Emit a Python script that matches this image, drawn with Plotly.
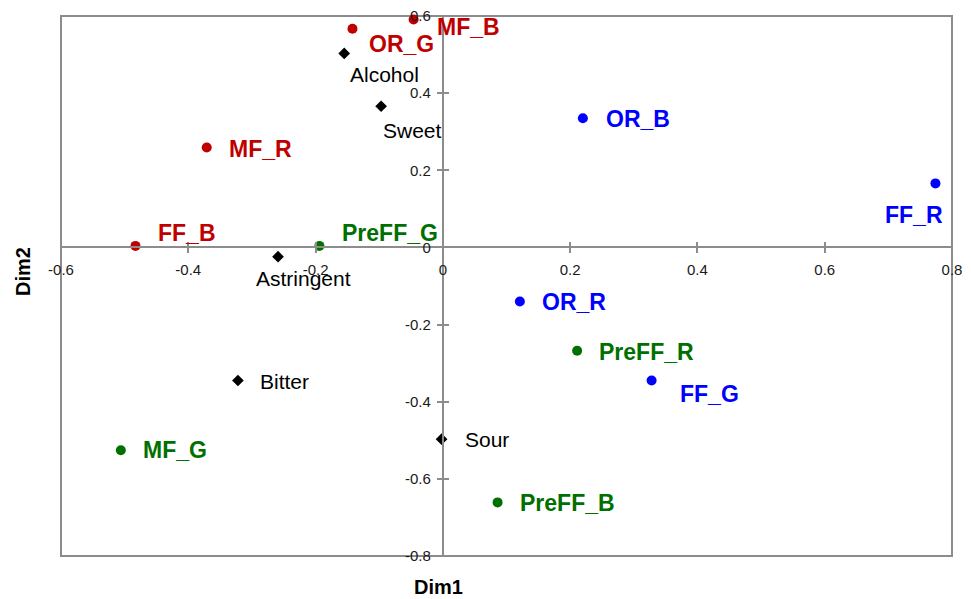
import plotly.graph_objects as go

# Sample coordinates on the first two dimensions
red_names = ["MF_B", "OR_G", "MF_R", "FF_B"]
red_dim1 = [-0.046, -0.142, -0.371, -0.483]
red_dim2 = [0.591, 0.567, 0.259, 0.004]

green_names = ["PreFF_G", "MF_G", "PreFF_R", "PreFF_B"]
green_dim1 = [-0.194, -0.506, 0.211, 0.086]
green_dim2 = [0.004, -0.526, -0.268, -0.661]

blue_names = ["OR_B", "FF_R", "OR_R", "FF_G"]
blue_dim1 = [0.220, 0.774, 0.121, 0.328]
blue_dim2 = [0.335, 0.166, -0.140, -0.345]

# Sensory attributes
attr_names = ["Alcohol", "Sweet", "Astringent", "Bitter", "Sour"]
attr_dim1 = [-0.155, -0.097, -0.259, -0.322, -0.002]
attr_dim2 = [0.503, 0.366, -0.024, -0.345, -0.497]

x_ticks = [-0.6, -0.4, -0.2, 0, 0.2, 0.4, 0.6, 0.8]
x_tick_text = ["-0.6", "-0.4", "-0.2", "0", "0.2", "0.4", "0.6", "0.8"]
y_ticks = [-0.8, -0.6, -0.4, -0.2, 0, 0.2, 0.4, 0.6]
y_tick_text = ["-0.8", "-0.6", "-0.4", "-0.2", "0", "0.2", "0.4", "0.6"]

# Label placement: (x offset px, y offset px downward, anchor)
label_offsets = {
    "MF_B": (21, 8, "left"), "OR_G": (15, 15, "left"), "MF_R": (20, 1, "left"),
    "FF_B": (21, -13, "left"), "PreFF_G": (21, -13, "left"), "MF_G": (20, 0, "left"),
    "PreFF_R": (20, 1, "left"), "PreFF_B": (20, 1, "left"), "OR_B": (21, 1, "left"),
    "FF_R": (10, 32, "right"), "OR_R": (20, 1, "left"), "FF_G": (26, 13, "left"),
    "Alcohol": (4, 21, "left"), "Sweet": (0, 24, "left"), "Astringent": (-24, 22, "left"),
    "Bitter": (20, 1, "left"), "Sour": (21, 0, "left"),
}

RED, GREEN, BLUE, BLACK = "#C00000", "#007000", "#0000FF", "#000000"
AXIS_GREY = "#8C8C8C"
FONT = "Liberation Sans, Arial, sans-serif"

X_RANGE = [-0.6, 0.8]
Y_RANGE = [-0.8, 0.6]

fig = go.Figure()

groups = [
    (red_names, red_dim1, red_dim2, RED, "circle", 10, True),
    (green_names, green_dim1, green_dim2, GREEN, "circle", 10, True),
    (blue_names, blue_dim1, blue_dim2, BLUE, "circle", 10, True),
    (attr_names, attr_dim1, attr_dim2, BLACK, "diamond", 9, False),
]

annotations = []
for names, xs, ys, color, symbol, size, bold in groups:
    fig.add_trace(go.Scatter(
        x=xs, y=ys, mode="markers", cliponaxis=False,
        marker=dict(color=color, symbol=symbol, size=size, line=dict(width=0)),
        showlegend=False, hoverinfo="skip",
    ))
    for n, xv, yv in zip(names, xs, ys):
        dx, dy, anchor = label_offsets[n]
        annotations.append(dict(
            x=xv, y=yv, xref="x", yref="y",
            text=f"<b>{n}</b>" if bold else n,
            showarrow=False, xanchor=anchor, yanchor="middle",
            xshift=dx, yshift=-dy,
            font=dict(family=FONT, size=23 if bold else 21, color=color),
        ))

W, H = 971, 599
ML, MR, MT, MB = 61, 19, 16, 43
pw, ph = W - ML - MR, H - MT - MB

# Axis titles, placed by pixel position converted to paper coordinates
annotations.append(dict(
    x=(438 - ML) / pw, y=1 - (587 - MT) / ph, xref="paper", yref="paper",
    xanchor="center", yanchor="middle",
    text="<b>Dim1</b>", showarrow=False,
    font=dict(family=FONT, size=20, color="#000000"),
))
annotations.append(dict(
    x=(23 - ML) / pw, y=1 - (272 - MT) / ph, xref="paper", yref="paper",
    xanchor="center", yanchor="middle",
    text="<b>Dim2</b>", showarrow=False, textangle=-90,
    font=dict(family=FONT, size=20, color="#000000"),
))

# axis lines crossing at the origin
x_cross = (0 - Y_RANGE[0]) / (Y_RANGE[1] - Y_RANGE[0])
y_cross = (0 - X_RANGE[0]) / (X_RANGE[1] - X_RANGE[0])

tick_font = dict(family=FONT, size=15, color="#1a1a1a")
common = dict(showgrid=False, zeroline=False, fixedrange=True, automargin=False)

fig.update_layout(
    width=W, height=H,
    margin=dict(l=ML, r=MR, t=MT, b=MB, pad=0),
    paper_bgcolor="white", plot_bgcolor="white",
    annotations=annotations,
    xaxis=dict(range=X_RANGE, anchor="free", position=x_cross,
               tickvals=x_ticks, ticktext=x_tick_text, ticks="outside",
               ticklen=5, tickwidth=1.5, tickcolor=AXIS_GREY,
               showline=True, linecolor=AXIS_GREY, linewidth=2,
               tickfont=tick_font, ticklabelstandoff=4, **common),
    yaxis=dict(range=Y_RANGE, anchor="free", position=y_cross,
               tickvals=y_ticks, ticktext=y_tick_text, ticks="outside",
               ticklen=5, tickwidth=1.5, tickcolor=AXIS_GREY,
               showline=True, linecolor=AXIS_GREY, linewidth=2,
               tickfont=tick_font, ticklabelstandoff=3, **common),
    xaxis2=dict(range=X_RANGE, overlaying="x", anchor="free", position=x_cross,
                tickvals=x_ticks, ticks="inside", ticklen=5, tickwidth=1.5,
                tickcolor=AXIS_GREY, showticklabels=False, side="bottom", **common),
    yaxis2=dict(range=Y_RANGE, overlaying="y", anchor="free", position=y_cross,
                tickvals=y_ticks, ticks="inside", ticklen=5, tickwidth=1.5,
                tickcolor=AXIS_GREY, showticklabels=False, side="left", **common),
    shapes=[dict(type="rect", xref="paper", yref="paper", x0=0, y0=0, x1=1, y1=1,
                 line=dict(color=AXIS_GREY, width=2), layer="below")],
)

# invisible trace so the overlaying axes are drawn
fig.add_trace(go.Scatter(x=[None], y=[None], xaxis="x2", yaxis="y2",
                         showlegend=False, hoverinfo="skip"))

fig.write_html("out.html")
